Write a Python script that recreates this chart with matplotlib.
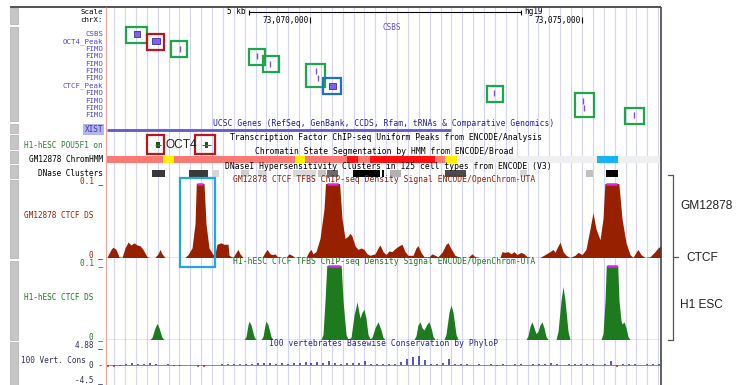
import numpy as np
import matplotlib.pyplot as plt
from matplotlib.patches import Rectangle

W, H = 741, 385
X0, X1 = 107, 661

view_start, view_end = 73066268, 73076452

scale_bar = [73068880, 73073880]
ruler_ticks = [73070000, 73075000]
ruler_labels = ['73,070,000', '73,075,000']

# CSBS custom track group
row_names = ['CSBS', 'OCT4_Peak', 'FIMO', 'FIMO', 'FIMO', 'FIMO', 'FIMO',
	'CTCF_Peak', 'FIMO', 'FIMO', 'FIMO', 'FIMO']
peak_rows = [0, 1, 7]
peak_starts = [73066765, 73067096, 73070349]
peak_ends = [73066875, 73067243, 73070478]
fimo_rows = [2, 3, 4, 5, 6, 8, 9, 10, 11]
fimo_starts = [73067601, 73069017, 73069256, 73070101, 73070138, 73073373, 73075009, 73075021, 73075947]
fimo_ends = [73067620, 73069036, 73069275, 73070120, 73070157, 73073392, 73075028, 73075040, 73075966]

box_starts = [73066618, 73067004, 73067445, 73068879, 73069136, 73069926, 73070239, 73073254, 73074871, 73075790]
box_ends = [73067004, 73067316, 73067739, 73069173, 73069430, 73070276, 73070570, 73073548, 73075220, 73076139]
box_first_row = [0, 1, 2, 3, 4, 5, 7, 8, 9, 11]
box_last_row = [0, 1, 2, 3, 4, 6, 7, 8, 10, 11]
box_kind = ['motif', 'oct4', 'motif', 'motif', 'motif', 'motif', 'ctcf', 'motif', 'motif', 'motif']

xist_end = 73072588

pou5f1_starts = [73067151, 73068015]
pou5f1_ends = [73067261, 73068180]
pou5f1_summits = [73067206, 73068100]
pou5f1_box_starts = [73067004, 73067886]
pou5f1_box_ends = [73067316, 73068254]

chrom_starts = [73066268, 73067298, 73067500, 73069724, 73069908, 73070680, 73070882,
	73071103, 73072298, 73072481, 73072702, 73075275, 73075661]
chrom_ends = [73067298, 73067500, 73069724, 73069908, 73070680, 73070882, 73071103,
	73072298, 73072481, 73072702, 73075275, 73075661, 73076452]
chrom_states = ['weak_promoter', 'weak_enhancer', 'weak_promoter', 'weak_enhancer', 'weak_promoter',
	'active_promoter', 'weak_promoter', 'active_promoter', 'weak_promoter', 'weak_enhancer',
	'heterochrom', 'insulator', 'heterochrom']
state_colors = {'weak_promoter': '#f87a72', 'active_promoter': '#ff1010', 'weak_enhancer': '#fff000',
	'insulator': '#16b4f2', 'heterochrom': '#efefef'}

dnase_starts = [73067096, 73067776, 73068199, 73068732, 73069044, 73069688, 73070147, 73070312,
	73070790, 73071323, 73071470, 73072481, 73073860, 73075073, 73075440]
dnase_ends = [73067335, 73068125, 73068327, 73068879, 73069191, 73070110, 73070294, 73070515,
	73071287, 73071360, 73071673, 73072867, 73073988, 73075202, 73075661]
dnase_scores = [770, 770, 145, 170, 140, 130, 215, 570, 1000, 950, 290, 700, 140, 230, 1000]

gm_box = [73067611, 73068254]

gm_pos = [73066268, 73066287, 73066342, 73066379, 73066434, 73066489, 73066544, 73066599, 73066654, 73066710,
	73066765, 73066820, 73066875, 73066930, 73067004, 73067059, 73067151, 73067206, 73067243, 73067279,
	73067335, 73067702, 73067757, 73067831, 73067886, 73067923, 73068033, 73068088, 73068143, 73068217,
	73068254, 73068290, 73068364, 73068419, 73068493, 73068511, 73068585, 73068640, 73068676, 73068713,
	73068768, 73069118, 73069173, 73069210, 73069265, 73069320, 73069357, 73069412, 73069559, 73069614,
	73069669, 73069724, 73069926, 73069982, 73070018, 73070055, 73070110, 73070184, 73070257, 73070312,
	73070515, 73070588, 73070643, 73070699, 73070735, 73070772, 73070827, 73070882, 73070937, 73070993,
	73071048, 73071103, 73071195, 73071250, 73071287, 73071342, 73071397, 73071452, 73071507, 73071562,
	73071636, 73071691, 73071746, 73071801, 73071893, 73071948, 73071985, 73072040, 73072096, 73072187,
	73072243, 73072298, 73072353, 73072426, 73072500, 73072537, 73072592, 73072665, 73072757, 73072904,
	73072978, 73073033, 73073125, 73073493, 73073529, 73073584, 73073640, 73073695, 73073750, 73073805,
	73073879, 73073934, 73073989, 73074044, 73074228, 73074320, 73074412, 73074467, 73074504, 73074540,
	73074596, 73074651, 73074706, 73074779, 73074871, 73074926, 73075000, 73075073, 73075147, 73075202,
	73075257, 73075331, 73075386, 73075441, 73075643, 73075735, 73075809, 73075882, 73075937, 73075993,
	73076029, 73076084, 73076158, 73076250, 73076342, 73076397, 73076452]
gm_val = [0, .003, .011, .014, .011, .001, 0, .013, .021, .017,
	.020, .017, .016, .011, .001, 0, 0, .005, .011, .005,
	0, 0, .004, .013, .046, .132, .128, .046, .013, .004,
	.005, .018, .020, .018, .018, .003, 0, .007, .011, .005,
	0, 0, .007, .011, .005, .004, .005, 0, 0, .005,
	.003, 0, 0, .008, .011, .005, .008, .026, .066, .135,
	.131, .053, .026, .029, .033, .029, .016, .011, .013, .011,
	.005, .003, .005, .013, .017, .008, .004, .009, .008, .012,
	.016, .018, .008, .003, .003, .013, .016, .007, .001, .001,
	.005, .003, .001, .007, .018, .020, .012, .003, 0, 0,
	.005, .001, 0, 0, .008, .007, .008, .005, .008, .004,
	.007, .005, .001, 0, 0, .004, .008, .011, .007, .013,
	.021, .008, .003, 0, .003, .007, .004, .011, .039, .061,
	.039, .024, .053, .130, .129, .053, .020, .004, 0, .007,
	.011, .004, 0, .001, .008, .013, .016]

h1_pos = [73066268, 73067059, 73067096, 73067151, 73067188, 73067224, 73067279, 73067316, 73068787, 73068824,
	73068860, 73068879, 73068915, 73068971, 73069007, 73069099, 73069136, 73069173, 73069191, 73069228,
	73069283, 73069320, 73070202, 73070239, 73070276, 73070331, 73070551, 73070607, 73070662, 73070699,
	73070754, 73070809, 73070864, 73070919, 73070956, 73070993, 73071029, 73071066, 73071103, 73071140,
	73071195, 73071250, 73071305, 73071342, 73071379, 73071912, 73071948, 73071985, 73072022, 73072059,
	73072096, 73072151, 73072187, 73072224, 73072261, 73072298, 73072463, 73072500, 73072555, 73072592,
	73072629, 73072684, 73072721, 73073971, 73074007, 73074044, 73074081, 73074118, 73074154, 73074191,
	73074228, 73074265, 73074301, 73074338, 73074375, 73074522, 73074559, 73074614, 73074651, 73074688,
	73074743, 73074779, 73075349, 73075386, 73075423, 73075460, 73075643, 73075680, 73075717, 73075735,
	73075772, 73075809, 73075845, 73075882, 73076452]
h1_val = [0, 0, .003, .016, .022, .016, .003, 0, 0, .004,
	.020, .025, .020, .004, 0, 0, .004, .020, .025, .020,
	.004, 0, 0, .007, .053, .134, .131, .053, .007, 0,
	.003, .033, .051, .029, .037, .041, .029, .007, .001, .003,
	.016, .024, .013, .003, 0, 0, .005, .020, .024, .016,
	.013, .021, .024, .016, .004, 0, 0, .007, .037, .047,
	.037, .007, 0, 0, .005, .018, .024, .016, .008, .011,
	.020, .024, .016, .004, 0, 0, .011, .053, .072, .053,
	.011, 0, 0, .008, .053, .130, .128, .053, .026, .021,
	.024, .016, .004, 0, 0]

# phyloP, fixedStep
cons_start = 73066287
cons_step = 110
cons_val = [-0.6, -0.5, -0.3, 0.3, 0.5, 0.4, 0.4, 0.5, 0.3, 0.1,
	0.2, -0.1, -0.3, 0.1, 0.1, -0.4, -0.6, 0.1, 0.0, 0.2,
	0.3, 0.2, 0.2, 0.3, 0.4, 0.6, 0.5, 0.7, 0.4, 0.6,
	0.3, 0.7, 0.5, 0.8, 0.6, 0.9, 0.7, 1.1, 0.6, 0.3,
	0.5, 0.6, 0.7, 1.0, 0.3, 0.2, 0.4, 0.3, 0.2, 0.9,
	1.6, 2.2, 2.5, 1.4, 0.3, 0.2, 0.5, 1.6, 0.4, 0.2,
	0.3, 0.1, 0.2, 0.1, 0.3, -0.1, 0.2, 0.1, 0.3, 0.2,
	0.1, 0.4, 0.2, 0.3, 0.6, 0.2, 0.1, 0.3, 0.2, 0.4,
	0.2, 0.3, 0.1, 0.2, 1.0, -0.4, 0.3, 0.2, 0.3, 0.1,
	0.3, 0.2, 0.2]

mono = dict(family='DejaVu Sans Mono', fontsize=5.8)
side = dict(family='DejaVu Sans Mono', fontsize=5.6)
rowf = dict(family='DejaVu Sans Mono', fontsize=5.3)
sans = dict(family='Liberation Sans', fontsize=8.6, color='#222222')
box_colors = {'motif': '#1fa54a', 'oct4': '#c0141c', 'ctcf': '#1f6fd0'}

fig = plt.figure(figsize=(W / 100, H / 100), dpi=100)


def px_axes(x0, y0, x1, y1):
	ax = fig.add_axes([x0 / W, 1 - y1 / H, (x1 - x0) / W, (y1 - y0) / H])
	ax.set_axis_off()
	return ax


def row_y(i):
	return 34 + 7.4 * i


# labels and frame sit above the track axes
page = px_axes(0, 0, W, H)
page.set_xlim(0, W)
page.set_ylim(H, 0)
page.set_zorder(3)

for y0, y1 in [(8, 24), (27, 121), (124, 133), (135, 149), (151, 163), (165, 178), (180, 258), (261, 340), (342, 385)]:
	page.add_patch(Rectangle((10, y0), 8, y1 - y0, fc='#c6c6c6', ec='#adadad', lw=0.5))
page.hlines(7, 10, X1, color='#444444', lw=1.3)
page.vlines(X1, 7, H, color='#444444', lw=1.2)
page.vlines(105.5, 7, H, color='#f2a898', lw=0.9)

guides = px_axes(X0, 7, X1, H)
guides.set_xlim(view_start, view_end)
for g in range(73066400, view_end, 200):
	guides.axvline(g, color='#d4d4f4', lw=0.8)


def signal(y0, y1, pos, vals, color, name, title):
	ax = px_axes(X0, y0, X1, y1)
	ax.set_xlim(view_start, view_end)
	ax.set_ylim(0, 0.1)
	ax.fill_between(pos, 0, vals, color=color, lw=0)
	ax.axhline(0, color=color, lw=0.9)
	pos = np.array(pos)
	over = np.array(vals) > 0.1
	i = 0
	while i < len(over):
		if over[i]:
			j = i
			while j + 1 < len(over) and over[j + 1]:
				j += 1
			ax.hlines(0.1, pos[i], pos[j], color='#e81ee8', lw=1.8, clip_on=False)
			i = j + 1
		else:
			i += 1
	page.text(103, y0 - 3, '0.1 _', ha='right', va='center', color=color, **side)
	page.text(103, y1 - 3, '0 _', ha='right', va='center', color=color, **side)
	page.text(93, (y0 + y1) / 2 - 5, name, ha='right', va='center', color=color, **side)
	page.text((X0 + X1) / 2, y0 - 4, title, ha='center', va='center', color=color, **mono)
	return ax


gm = signal(184, 257.5, gm_pos, gm_val, '#962000', 'GM12878 CTCF DS',
	'GM12878 CTCF TFBS ChIP-seq Density Signal ENCODE/OpenChrom-UTA')
h1 = signal(266, 339.5, h1_pos, h1_val, '#1e7a1e', 'H1-hESC CTCF DS',
	'H1-hESC CTCF TFBS ChIP-seq Density Signal ENCODE/OpenChrom-UTA')

cons = px_axes(X0, 347, X1, 382)
cons.set_xlim(view_start, view_end)
cons.set_ylim(-4.5, 4.88)
cpos = cons_start + cons_step * np.arange(len(cons_val))
cval = np.array(cons_val)
cons.axhline(0, color='#7070b8', lw=0.6)
cons.vlines(cpos, 0, cval, colors=np.where(cval >= 0, '#2a2a9a', '#b42828'), lw=1.1)
page.text(103, 344.5, '4.88 _', ha='right', va='center', color='#303060', **side)
page.text(103, 365.5, '0 -', ha='right', va='center', color='#303060', **side)
page.text(103, 380, '-4.5 _', ha='right', va='center', color='#303060', **side)
page.text(86, 360.5, '100 Vert. Cons', ha='right', va='center', color='#303060', **side)
page.text((X0 + X1) / 2, 343, '100 vertebrates Basewise Conservation by PhyloP', ha='center', va='center',
	color='#2a2a80', **mono)

view = px_axes(X0, 0, X1, H)
view.set_xlim(view_start, view_end)
view.set_ylim(H, 0)

# ruler
view.hlines(12, scale_bar[0], scale_bar[1], color='k', lw=0.8)
view.vlines(scale_bar, 9.5, 14.5, color='k', lw=0.8)
view.annotate('5 kb', (scale_bar[0], 12), xytext=(-2.5, 0), textcoords='offset points',
	ha='right', va='center', **side)
view.annotate('hg19', (scale_bar[1], 11), xytext=(2, 0), textcoords='offset points',
	ha='left', va='center', **side)
for t, lab in zip(ruler_ticks, ruler_labels):
	view.vlines(t, 16.5, 23, color='k', lw=0.8)
	view.annotate(lab, (t, 20), xytext=(-1, 0), textcoords='offset points', ha='right', va='center', **side)
page.text(103, 12, 'Scale', ha='right', va='center', **rowf)
page.text(103, 20, 'chrX:', ha='right', va='center', **rowf)

# CSBS rows
page.text(392, 28, 'CSBS', ha='center', va='center', color='#6650d0', **side)
for i, name in enumerate(row_names):
	page.text(103, row_y(i), name, ha='right', va='center', color='#4f46c8', **rowf)
for r, s, e in zip(peak_rows, peak_starts, peak_ends):
	view.add_patch(Rectangle((s, row_y(r) - 3), e - s, 6, fc='#7a66e0', ec='#3e28b0', lw=0.6))
for r, s, e in zip(fimo_rows, fimo_starts, fimo_ends):
	view.vlines((s + e) / 2, row_y(r) - 3, row_y(r) + 3, color='#8050d0', lw=1.0)
for s, e, r0, r1, k in zip(box_starts, box_ends, box_first_row, box_last_row, box_kind):
	view.add_patch(Rectangle((s, row_y(r0) - 7.5), e - s, row_y(r1) - row_y(r0) + 16,
		fill=False, ec=box_colors[k], lw=1.6))

# UCSC genes
page.text((X0 + X1) / 2, 124, 'UCSC Genes (RefSeq, GenBank, CCDS, Rfam, tRNAs & Comparative Genomics)',
	ha='center', va='center', color='#22228c', **mono)
view.hlines(130, view_start, xist_end, color='#5a5ad2', lw=2.0)
page.text(103, 129.5, 'XIST', ha='right', va='center', color='#3c3ca0',
	bbox=dict(fc='#b4b4ee', ec='none', pad=0.8), **side)

# POU5F1 peaks
page.text((X0 + X1) / 2 + 2, 138, 'Transcription Factor ChIP-seq Uniform Peaks from ENCODE/Analysis',
	ha='center', va='center', **mono)
page.text(103, 145, 'H1-hESC POU5F1 on', ha='right', va='center', color='#2e7d32', **side)
for s, e, m in zip(pou5f1_starts, pou5f1_ends, pou5f1_summits):
	view.hlines(145, s, e, color='#2e7d32', lw=0.8)
	view.add_patch(Rectangle((m - 30, 142), 60, 6, fc='#1a5a1a', ec='none'))
for s, e in zip(pou5f1_box_starts, pou5f1_box_ends):
	view.add_patch(Rectangle((s, 135), e - s, 19, fill=False, ec=box_colors['oct4'], lw=1.6))
page.text(181.5, 145, 'OCT4', ha='center', va='center', **sans)

# ChromHMM
page.text((X0 + X1) / 2, 152, 'Chromatin State Segmentation by HMM from ENCODE/Broad',
	ha='center', va='center', **mono)
page.text(103, 159.5, 'GM12878 ChromHMM', ha='right', va='center', **side)
for s, e, st in zip(chrom_starts, chrom_ends, chrom_states):
	view.add_patch(Rectangle((s, 156), e - s, 7, fc=state_colors[st], ec='none'))

# DNase clusters
page.text((X0 + X1) / 2 + 4, 166.5, 'DNaseI Hypersensitivity Clusters in 125 cell types from ENCODE (V3)',
	ha='center', va='center', **mono)
page.text(103, 173, 'DNase Clusters', ha='right', va='center', **side)
for s, e, sc in zip(dnase_starts, dnase_ends, dnase_scores):
	view.add_patch(Rectangle((s, 170), e - s, 7, fc=str(round(0.98 - 0.98 * sc / 1000, 3)), ec='none'))

view.add_patch(Rectangle((gm_box[0], 178), gm_box[1] - gm_box[0], 89, fill=False, ec='#22a6e6', lw=1.6))

# cell line bracket
page.plot([668, 673, 673, 668], [175, 175, 340, 340], color='#555555', lw=0.9)
page.plot([673, 678], [257, 257], color='#555555', lw=0.9)
page.text(680, 206, 'GM12878', ha='left', va='center', **sans)
page.text(686, 258, 'CTCF', ha='left', va='center', **sans)
page.text(680, 305, 'H1 ESC', ha='left', va='center', **sans)

fig.savefig('out.png', dpi=100)
